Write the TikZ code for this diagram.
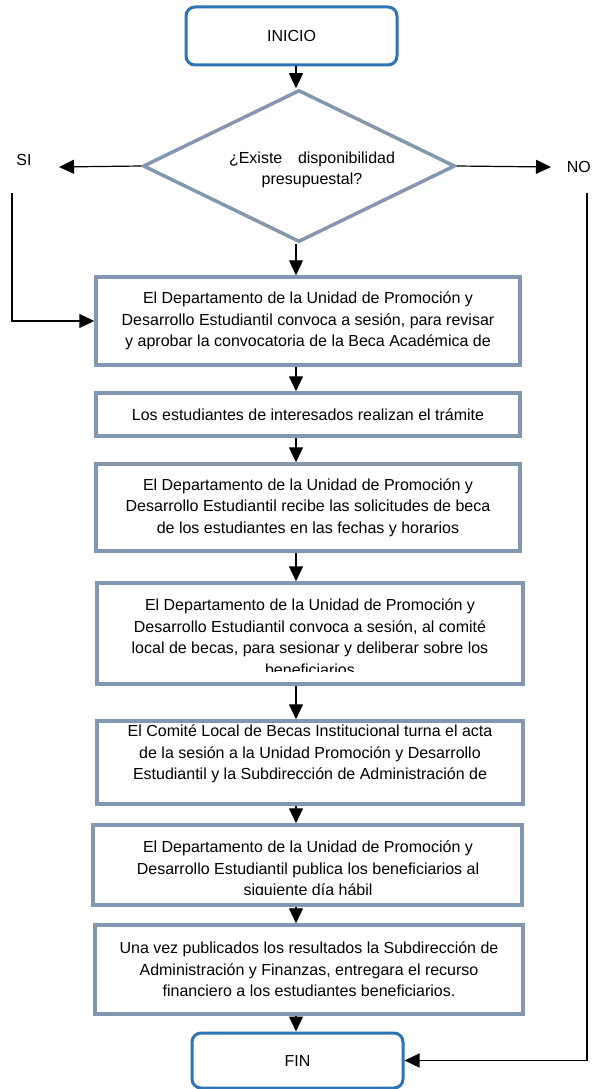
\documentclass[tikz,border=0pt]{standalone}
\usepackage{fontspec}
\setmainfont{Liberation Sans}
\usetikzlibrary{shapes.geometric,arrows.meta}
\definecolor{boxgray}{HTML}{8497B0}
\definecolor{endblue}{HTML}{2E75B6}
\begin{document}
\begin{tikzpicture}[x=1pt,y=-1pt]
\tikzstyle{every node}+=[inner sep=0pt,font=\fontsize{16}{21.5}\selectfont]
\tikzstyle{terminal}=[draw=endblue,line width=3pt,rounded corners=9pt,minimum width=211pt]
\tikzstyle{process}=[draw=boxgray,line width=3.5pt,align=center]
\tikzstyle{decision}=[diamond,draw=boxgray,line width=3.5pt,minimum width=312pt,minimum height=152pt]
\tikzstyle{flow}=[line width=1.2pt,-{Triangle[width=14pt,length=15pt]}]
\useasboundingbox (0,0) rectangle (592,1089);
\coordinate (colx) at (296,0);
% start and decision
\node [terminal,minimum height=58pt] (inicio) at (291.5,36) {INICIO};
\node [decision] (dec) at (299,166) {};
\node [align=center] (dectext) at (312,170) {\makebox[166pt][s]{¿Existe disponibilidad}\\presupuestal?};
\coordinate (siend) at (59,167);
\coordinate (sitop) at (12,193);
\coordinate (noend) at (551,167);
\coordinate (notop) at (587,193);
\node (si) at (24,160) {SI};
\node [anchor=east] (no) at (591,167) {NO};
% steps
\node [process,minimum width=424pt,minimum height=88pt] (b1) at (308,321) {El Departamento de la Unidad de Promoción y\\Desarrollo Estudiantil convoca a sesión, para revisar\\y aprobar la convocatoria de la Beca Académica de};
\node [process,minimum width=424pt,minimum height=43pt] (b2) at (308,414.5) {Los estudiantes de interesados realizan el trámite};
\node [process,minimum width=424pt,minimum height=87pt] (b3) at (308,507.5) {El Departamento de la Unidad de Promoción y\\Desarrollo Estudiantil recibe las solicitudes de beca\\de los estudiantes en las fechas y horarios};
\node [process,minimum width=426pt,minimum height=101pt] (b4) at (310,633.5) {};
\begin{scope}
\clip (b4.north west) rectangle ([yshift=14.75pt]b4.south east);
\node [align=center] (b4text) at (310,637) {El Departamento de la Unidad de Promoción y\\Desarrollo Estudiantil convoca a sesión, al comité\\local de becas, para sesionar y deliberar sobre los\\beneficiarios};
\end{scope}
\node [process,minimum width=426pt,minimum height=83pt] (b5) at (310,762.5) {};
\node [align=center] (b5text) at (310,754) {El Comité Local de Becas Institucional turna el acta\\de la sesión a la Unidad Promoción y Desarrollo\\Estudiantil y la Subdirección de Administración de};
\node [process,minimum width=429pt,minimum height=80pt] (b6) at (307.5,865) {};
\begin{scope}
\clip (b6.north west) rectangle ([yshift=12pt]b6.south east);
\node [align=center] (b6text) at (308,870) {El Departamento de la Unidad de Promoción y\\Desarrollo Estudiantil publica los beneficiarios al\\siguiente día hábil};
\end{scope}
\node [process,minimum width=428pt,minimum height=89pt] (b7) at (309,969.5) {Una vez publicados los resultados la Subdirección de\\Administración y Finanzas, entregara el recurso\\financiero a los estudiantes beneficiarios.};
\node [terminal,minimum height=55pt] (fin) at (297.5,1060.5) {FIN};
% connectors
\draw [flow] (inicio.south -| colx) -- (dec.north -| colx);
\draw [flow] (dec.south -| colx) -- (b1.north -| colx);
\draw [flow] (b1.south -| colx) -- (b2.north -| colx);
\draw [flow] (b2.south -| colx) -- (b3.north -| colx);
\draw [flow] (b3.south -| colx) -- (b4.north -| colx);
\draw [flow] (b4.south -| colx) -- (b5.north -| colx);
\draw [flow] (b5.south -| colx) -- (b6.north -| colx);
\draw [flow] (b6.south -| colx) -- (b7.north -| colx);
\draw [flow] (b7.south -| colx) -- (fin.north -| colx);
\draw [flow] (dec.west) -- (siend);
\draw [flow] (sitop) |- (b1.west);
\draw [flow] (dec.east) -- (noend);
\draw [flow] (notop) |- (fin.east);
\end{tikzpicture}
\end{document}
